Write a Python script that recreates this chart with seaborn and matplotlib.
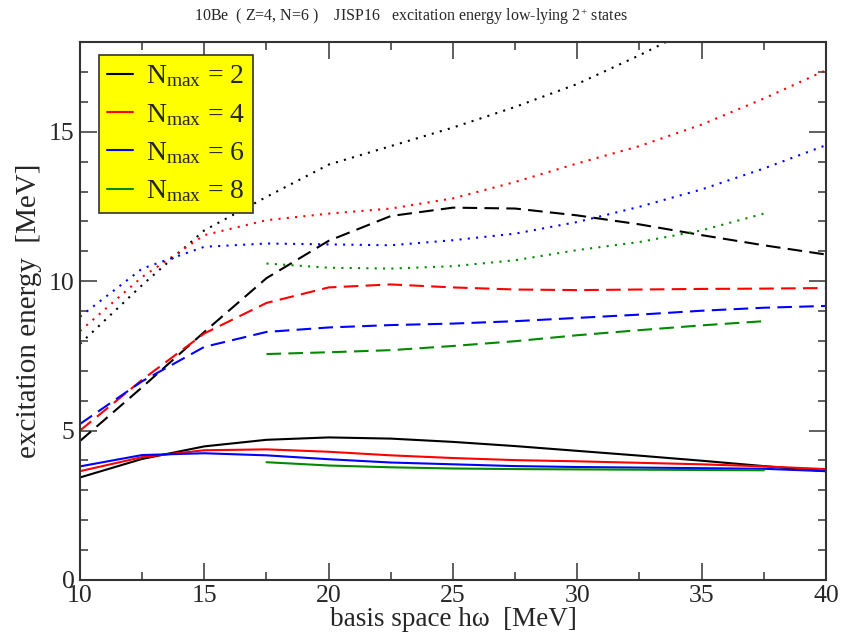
import numpy as np
import pandas as pd
import matplotlib
matplotlib.use("Agg")
import matplotlib.pyplot as plt
import seaborn as sns
from matplotlib.lines import Line2D
from matplotlib.ticker import MultipleLocator

# basis space hw values [MeV]
hw = [10, 12.5, 15, 17.5, 20, 22.5, 25, 27.5, 30, 32.5, 35, 37.5, 40]
hw8 = [17.5, 20, 22.5, 25, 27.5, 30, 32.5, 35, 37.5]

# excitation energies [MeV], first / second / third 2+ state
nmax2_first = [3.43, 4.05, 4.47, 4.69, 4.77, 4.73, 4.62, 4.48, 4.32, 4.16, 3.99, 3.81, 3.64]
nmax2_second = [4.65, 6.45, 8.3, 10.1, 11.35, 12.18, 12.46, 12.43, 12.2, 11.9, 11.54, 11.2, 10.89]
nmax2_third = [7.9, 9.87, 11.7, 12.82, 13.9, 14.52, 15.14, 15.83, 16.6, 17.56, 18.6, 19.7, 20.9]

nmax4_first = [3.64, 4.11, 4.34, 4.37, 4.29, 4.17, 4.08, 4.01, 3.97, 3.92, 3.87, 3.80, 3.71]
nmax4_second = [5.0, 6.7, 8.25, 9.27, 9.79, 9.89, 9.79, 9.72, 9.70, 9.72, 9.74, 9.75, 9.77]
nmax4_third = [8.33, 10.14, 11.54, 12.04, 12.26, 12.43, 12.77, 13.32, 13.94, 14.52, 15.24, 16.11, 17.06]

nmax6_first = [3.8, 4.18, 4.24, 4.17, 4.04, 3.93, 3.87, 3.81, 3.78, 3.76, 3.74, 3.72, 3.64]
nmax6_second = [5.22, 6.65, 7.8, 8.3, 8.45, 8.53, 8.58, 8.66, 8.77, 8.88, 9.01, 9.11, 9.17]
nmax6_third = [8.81, 10.42, 11.15, 11.26, 11.23, 11.2, 11.37, 11.59, 11.98, 12.49, 13.07, 13.77, 14.55]

nmax8_first = [3.94, 3.83, 3.77, 3.73, 3.71, 3.70, 3.69, 3.68, 3.67]
nmax8_second = [7.56, 7.62, 7.69, 7.83, 7.99, 8.19, 8.36, 8.52, 8.66]
nmax8_third = [10.59, 10.45, 10.42, 10.5, 10.7, 11.04, 11.31, 11.7, 12.26]

nmax_labels = ["2", "4", "6", "8"]
colors = ["black", "#ff0000", "#0000ff", "#008a00"]

series = [
    (hw, nmax2_first, nmax2_second, nmax2_third),
    (hw, nmax4_first, nmax4_second, nmax4_third),
    (hw, nmax6_first, nmax6_second, nmax6_third),
    (hw8, nmax8_first, nmax8_second, nmax8_third),
]

sns.set_style("ticks")
plt.rcParams["font.family"] = ["Liberation Serif", "DejaVu Serif"]
plt.rcParams["mathtext.fontset"] = "custom"
plt.rcParams["mathtext.rm"] = "Liberation Serif"
plt.rcParams["mathtext.it"] = "Liberation Serif:italic"
plt.rcParams["mathtext.bf"] = "Liberation Serif:bold"

fig = plt.figure(figsize=(8.42, 6.38), dpi=100)
ax = fig.add_axes([0.095, 0.091, 0.886, 0.843])

styles = ["-", (0, (7, 3.5)), (0, (1, 3))]
for (x, first, second, third), col in zip(series, colors):
    for vals, ls in zip([first, second, third], styles):
        df = pd.DataFrame({"hw": x, "E": vals})
        sns.lineplot(data=df, x="hw", y="E", color=col, linestyle=ls,
                     linewidth=1.5, ax=ax, estimator=None)

ax.set_xlim(10, 40)
ax.set_ylim(0, 18)
ax.xaxis.set_major_locator(MultipleLocator(5))
ax.xaxis.set_minor_locator(MultipleLocator(2.5))
ax.yaxis.set_major_locator(MultipleLocator(5))
ax.yaxis.set_minor_locator(MultipleLocator(1))
ax.tick_params(which="both", direction="in", top=True, right=True,
               labelsize=18.5, color="#444444", width=1.2, pad=4)
ax.tick_params(which="major", length=12)
ax.tick_params(which="minor", length=6)
for sp in ax.spines.values():
    sp.set_linewidth(1.5)
    sp.set_color("#333333")

ax.set_xlabel("basis space h\u03c9  [MeV]", fontsize=19.5, labelpad=0)
ax.set_ylabel("excitation energy  [MeV]", fontsize=21, labelpad=5)
fig.text(0.488, 0.974,
         "10Be  ( Z=4, N=6 )    JISP16   excitation energy low-lying 2$^{+}$ states",
         fontsize=11.5, ha="center", va="center")

handles = [Line2D([], [], color=c, linewidth=1.5) for c in colors]
labels = [r"N$_{\rm max}$ = " + n for n in nmax_labels]
leg = ax.legend(handles, labels, loc="upper left", bbox_to_anchor=(0.025, 0.976),
                fontsize=20, frameon=True, fancybox=False, framealpha=1,
                facecolor="yellow", edgecolor="#333333", handlelength=0.95,
                handletextpad=0.45, labelspacing=0.45, borderpad=0.3,
                borderaxespad=0)
leg.get_frame().set_linewidth(1.2)

fig.savefig("out.png", dpi=100)
